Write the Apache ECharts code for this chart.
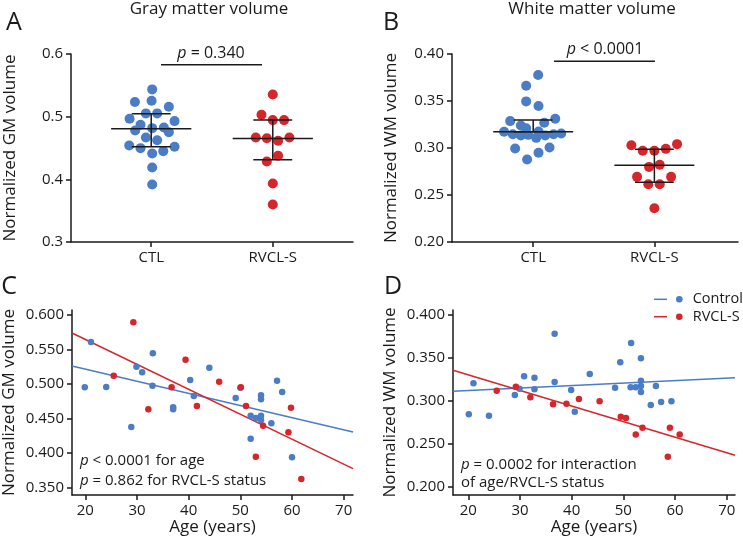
<!DOCTYPE html>
<html>
<head>
<meta charset="utf-8">
<script src="https://cdn.jsdelivr.net/npm/echarts@6/dist/echarts.min.js"></script>
<style>
  html, body { margin: 0; padding: 0; background: #fff; }
  #main { width: 743px; height: 543px; }
</style>
</head>
<body>
<div id="main"></div>
<script>
var groups = ['CTL', 'RVCL-S'];

// A: gray matter volume (beeswarm, jitter = horizontal offset from group)
var gmCtl = [0.5435, 0.5233, 0.5254, 0.5158, 0.5052, 0.5052, 0.4966, 0.4929, 0.4870, 0.4817, 0.4828,
    0.4780, 0.4753, 0.4668, 0.4625, 0.4540, 0.4498, 0.4519, 0.4412, 0.4450, 0.4189, 0.3917];
var gmCtlJit = [0.008, -0.134, 0.003, 0.145, -0.044, 0.049, -0.178, 0.192, -0.088, 0.008, 0.104,
    -0.132, 0.145, -0.044, 0.049, -0.181, -0.088, 0.192, 0.008, 0.099, 0.008, 0.008];
var gmRv = [0.5355, 0.5030, 0.4945, 0.4945, 0.4668, 0.4657, 0.4615, 0.4668, 0.4375, 0.4284, 0.3933, 0.3597];
var gmRvJit = [0, -0.093, 0, 0.093, -0.14, -0.049, 0.044, 0.137, 0.044, -0.049, 0, 0];
// [group, mean, lower, upper]
var gmStats = [[0, 0.4807, 0.4519, 0.5046], [1, 0.4652, 0.4311, 0.4945]];

// B: white matter volume
var wmCtl = [0.3776, 0.3663, 0.3496, 0.3446, 0.3286, 0.3311, 0.3268, 0.3240, 0.3211, 0.3172, 0.3176,
    0.3147, 0.3133, 0.3140, 0.3108, 0.3133, 0.3147, 0.3155, 0.2995, 0.3005, 0.2949, 0.2877];
var wmCtlJit = [0.041, -0.058, -0.058, 0.044, -0.19, 0.182, 0.091, -0.102, -0.058, -0.24, 0.044,
    -0.168, -0.102, -0.041, 0.025, 0.099, 0.168, 0.231, -0.149, 0.135, 0.044, -0.05];
var wmRv = [0.3030, 0.2970, 0.2970, 0.2991, 0.3041, 0.2799, 0.2821, 0.2693, 0.2693, 0.2615, 0.2615, 0.2359];
var wmRvJit = [-0.19, -0.096, 0, 0.094, 0.187, -0.044, 0.044, -0.143, 0.138, -0.05, 0.044, 0];
var wmStats = [[0, 0.3172, 0.3172, 0.3297], [1, 0.2817, 0.2636, 0.2988]];

// C: GM volume vs age
var cCtlAge = [19.9, 21.1, 24.05, 28.9, 29.9, 31.0, 33.07, 33.0, 37.0, 37.0, 40.3, 41.0, 44.0, 49.1, 50.0,
    54.0, 54.0, 57.1, 58.1, 52.0, 53.0, 54.0, 54.0, 56.0, 52.0, 60.0];
var cCtlGm = [0.4951, 0.5608, 0.4955, 0.4374, 0.5250, 0.5168, 0.5444, 0.4974, 0.4660, 0.4631, 0.5057, 0.4824,
    0.5235, 0.4795, 0.4945, 0.4834, 0.4777, 0.5047, 0.4882, 0.4538, 0.4505, 0.4538, 0.4476, 0.4428, 0.4205, 0.3935];
var cRvAge = [29.3, 25.5, 32.2, 36.7, 39.4, 41.6, 45.9, 50.1, 51.1, 54.4, 59.3, 59.8, 53.0, 61.8];
var cRvGm = [0.5894, 0.5119, 0.4631, 0.4951, 0.5351, 0.4679, 0.5032, 0.4951, 0.4679, 0.4394, 0.4297, 0.4655,
    0.3944, 0.3620];
// [intercept, slope]
var cCtlFit = [0.5567, -0.001762];
var cRvFit = [0.6370, -0.003621];

// D: WM volume vs age
var dCtlAge = [20.1, 21.0, 24.0, 29.0, 29.9, 30.8, 32.8, 32.8, 36.7, 36.7, 39.9, 40.6, 43.5, 48.4, 49.4,
    51.5, 51.4, 52.4, 53.4, 53.4, 53.4, 53.4, 56.3, 55.3, 57.3, 59.3];
var dCtlWm = [0.2845, 0.3206, 0.2829, 0.3070, 0.3143, 0.3287, 0.3271, 0.3136, 0.3783, 0.3221, 0.3128, 0.2876,
    0.3314, 0.3155, 0.3450, 0.3674, 0.3159, 0.3159, 0.3496, 0.3236, 0.3174, 0.3105, 0.3174, 0.2953, 0.2988, 0.2997];
var dRvAge = [25.5, 29.2, 32.0, 36.4, 39.0, 41.4, 45.4, 49.5, 50.5, 53.7, 52.4, 59.0, 60.9, 58.6];
var dRvWm = [0.3120, 0.3166, 0.3043, 0.2961, 0.2969, 0.3023, 0.2997, 0.2817, 0.2802, 0.2690, 0.2609, 0.2690,
    0.2609, 0.2352];
var dCtlFit = [0.3064, 0.00029];
var dRvFit = [0.3666, -0.001811];

var ageTicks = [20, 30, 40, 50, 60, 70];
var gmTicksA = [0.3, 0.4, 0.5, 0.6];
var wmTicksB = [0.20, 0.25, 0.30, 0.35, 0.40];
var gmTicksC = [0.35, 0.40, 0.45, 0.50, 0.55, 0.60];
var wmTicksD = [0.20, 0.25, 0.30, 0.35, 0.40];

var BLUE = '#4a7dc6';
var RED = '#d7262b';
var INK = '#1a1a1a';
var FONT = 'Open Sans';

function zip(a, b) {
    return a.map(function (v, i) { return [v, b[i]]; });
}
function swarm(group, vals, jit) {
    return vals.map(function (v, i) { return [group + jit[i], v]; });
}
function fitLine(fit, x0, x1) {
    return [[x0, fit[0] + fit[1] * x0], [x1, fit[0] + fit[1] * x1]];
}

function valueAxis(gi, min, max, ticks, fmt, extra) {
    var ax = {
        type: 'value', gridIndex: gi, min: min, max: max,
        axisLine: { show: true, onZero: false, lineStyle: { color: INK, width: 1.5 } },
        axisTick: { show: true, length: 5, customValues: ticks, lineStyle: { color: INK, width: 1.5 } },
        axisLabel: { customValues: ticks, formatter: fmt, color: INK, fontSize: 15, fontFamily: FONT, margin: 8 },
        splitLine: { show: false },
        nameTextStyle: { color: INK, fontSize: 17, fontFamily: FONT }
    };
    for (var k in extra) ax[k] = extra[k];
    return ax;
}

function statsRender(params, api) {
    var x = api.value(0), m = api.value(1), lo = api.value(2), hi = api.value(3);
    var st = { stroke: INK, lineWidth: 1.5 };
    function seg(a, b) {
        var p = api.coord(a), q = api.coord(b);
        return { type: 'line', shape: { x1: p[0], y1: p[1], x2: q[0], y2: q[1] }, style: st };
    }
    return {
        type: 'group',
        children: [
            seg([x - 0.33, m], [x + 0.33, m]),
            seg([x, lo], [x, hi]),
            seg([x - 0.16, hi], [x + 0.16, hi]),
            seg([x - 0.16, lo], [x + 0.16, lo])
        ]
    };
}

var xA = [-0.66, 1.66], xB = [-0.67, 1.69];
var xC = [17.43, 71.8], xD = [17.04, 71.6];

function pText(x, y, rest, align, size) {
    size = size || 16;
    return {
        type: 'text', x: x, y: y,
        style: {
            text: '{i|p}' + rest, align: align || 'center', verticalAlign: 'middle',
            font: size + 'px "Open Sans"', fill: INK,
            rich: { i: { fontStyle: 'italic', fontSize: size, fontFamily: FONT, fill: INK } }
        }
    };
}
function plain(x, y, text, size, align) {
    return {
        type: 'text', x: x, y: y,
        style: { text: text, align: align || 'center', verticalAlign: 'middle', font: size + 'px "Open Sans"', fill: INK }
    };
}
function hline(x1, x2, y, color) {
    return { type: 'line', shape: { x1: x1, y1: y, x2: x2, y2: y }, style: { stroke: color || INK, lineWidth: 1.5 } };
}

var option = {
    backgroundColor: '#fff',
    animation: false,
    grid: [
        { left: 71, top: 54, width: 282, height: 188 },
        { left: 452, top: 54, width: 286, height: 188 },
        { left: 72, top: 310, width: 281, height: 185 },
        { left: 453, top: 310, width: 282, height: 185 }
    ],
    xAxis: [
        valueAxis(0, xA[0], xA[1], [0, 1], function (v) { return groups[Math.round(v)]; }, {}),
        valueAxis(1, xB[0], xB[1], [0, 1], function (v) { return groups[Math.round(v)]; }, {}),
        valueAxis(2, xC[0], xC[1], ageTicks, function (v) { return String(v); },
            { name: 'Age (years)', nameLocation: 'middle', nameGap: 24 }),
        valueAxis(3, xD[0], xD[1], ageTicks, function (v) { return String(v); },
            { name: 'Age (years)', nameLocation: 'middle', nameGap: 24 })
    ],
    yAxis: [
        valueAxis(0, 0.3, 0.6, gmTicksA, function (v) { return v.toFixed(1); },
            { name: 'Normalized GM volume', nameLocation: 'middle', nameGap: 52 }),
        valueAxis(1, 0.2, 0.4, wmTicksB, function (v) { return v.toFixed(2); },
            { name: 'Normalized WM volume', nameLocation: 'middle', nameGap: 52 }),
        valueAxis(2, 0.3388, 0.6073, gmTicksC, function (v) { return v.toFixed(3); },
            { name: 'Normalized GM volume', nameLocation: 'middle', nameGap: 54 }),
        valueAxis(3, 0.1907, 0.4058, wmTicksD, function (v) { return v.toFixed(3); },
            { name: 'Normalized WM volume', nameLocation: 'middle', nameGap: 54 })
    ],
    series: [
        { type: 'scatter', xAxisIndex: 0, yAxisIndex: 0, data: swarm(0, gmCtl, gmCtlJit), symbolSize: 10, itemStyle: { color: BLUE, opacity: 1 } },
        { type: 'scatter', xAxisIndex: 0, yAxisIndex: 0, data: swarm(1, gmRv, gmRvJit), symbolSize: 10, itemStyle: { color: RED, opacity: 1 } },
        { type: 'custom', xAxisIndex: 0, yAxisIndex: 0, data: gmStats, renderItem: statsRender, z: 5 },
        { type: 'scatter', xAxisIndex: 1, yAxisIndex: 1, data: swarm(0, wmCtl, wmCtlJit), symbolSize: 10, itemStyle: { color: BLUE, opacity: 1 } },
        { type: 'scatter', xAxisIndex: 1, yAxisIndex: 1, data: swarm(1, wmRv, wmRvJit), symbolSize: 10, itemStyle: { color: RED, opacity: 1 } },
        { type: 'custom', xAxisIndex: 1, yAxisIndex: 1, data: wmStats, renderItem: statsRender, z: 5 },

        { type: 'line', xAxisIndex: 2, yAxisIndex: 2, data: fitLine(cCtlFit, xC[0], xC[1]), showSymbol: false, lineStyle: { color: BLUE, width: 1.5 }, z: 1 },
        { type: 'line', xAxisIndex: 2, yAxisIndex: 2, data: fitLine(cRvFit, xC[0], xC[1]), showSymbol: false, lineStyle: { color: RED, width: 1.5 }, z: 1 },
        { type: 'scatter', xAxisIndex: 2, yAxisIndex: 2, data: zip(cCtlAge, cCtlGm), symbolSize: 6.5, itemStyle: { color: BLUE, opacity: 1 }, z: 3 },
        { type: 'scatter', xAxisIndex: 2, yAxisIndex: 2, data: zip(cRvAge, cRvGm), symbolSize: 6.5, itemStyle: { color: RED, opacity: 1 }, z: 3 },

        { type: 'line', xAxisIndex: 3, yAxisIndex: 3, data: fitLine(dCtlFit, xD[0], xD[1]), showSymbol: false, lineStyle: { color: BLUE, width: 1.5 }, z: 1 },
        { type: 'line', xAxisIndex: 3, yAxisIndex: 3, data: fitLine(dRvFit, xD[0], xD[1]), showSymbol: false, lineStyle: { color: RED, width: 1.5 }, z: 1 },
        { type: 'scatter', xAxisIndex: 3, yAxisIndex: 3, data: zip(dCtlAge, dCtlWm), symbolSize: 6.5, itemStyle: { color: BLUE, opacity: 1 }, z: 3 },
        { type: 'scatter', xAxisIndex: 3, yAxisIndex: 3, data: zip(dRvAge, dRvWm), symbolSize: 6.5, itemStyle: { color: RED, opacity: 1 }, z: 3 }
    ],
    graphic: [
        plain(14, 23, 'A', 25),
        plain(391, 23, 'B', 25),
        plain(9, 287, 'C', 25),
        plain(393, 287, 'D', 25),
        plain(209, 9, 'Gray matter volume', 17),
        plain(592, 9, 'White matter volume', 17),
        pText(211, 53, ' = 0.340'),
        hline(161, 262, 64.7),
        pText(605, 49, ' < 0.0001'),
        hline(554, 655, 61.3),
        pText(80, 461, ' < 0.0001 for age', 'left', 15),
        pText(80, 481, ' = 0.862 for RVCL-S status', 'left', 15),
        pText(461, 465, ' = 0.0002 for interaction', 'left', 15),
        plain(461, 483, 'of age/RVCL-S status', 15, 'left'),
        // legend
        hline(654, 667, 299.3, BLUE),
        { type: 'circle', shape: { cx: 679.3, cy: 299.3, r: 3.3 }, style: { fill: BLUE } },
        plain(692.7, 299.3, 'Control', 14.5, 'left'),
        hline(654, 667, 316.7, RED),
        { type: 'circle', shape: { cx: 679.3, cy: 316.7, r: 3.3 }, style: { fill: RED } },
        plain(692.7, 316.7, 'RVCL-S', 14.5, 'left')
    ]
};

var myChart = echarts.init(document.getElementById('main'));
myChart.setOption(option);
</script>
</body>
</html>
